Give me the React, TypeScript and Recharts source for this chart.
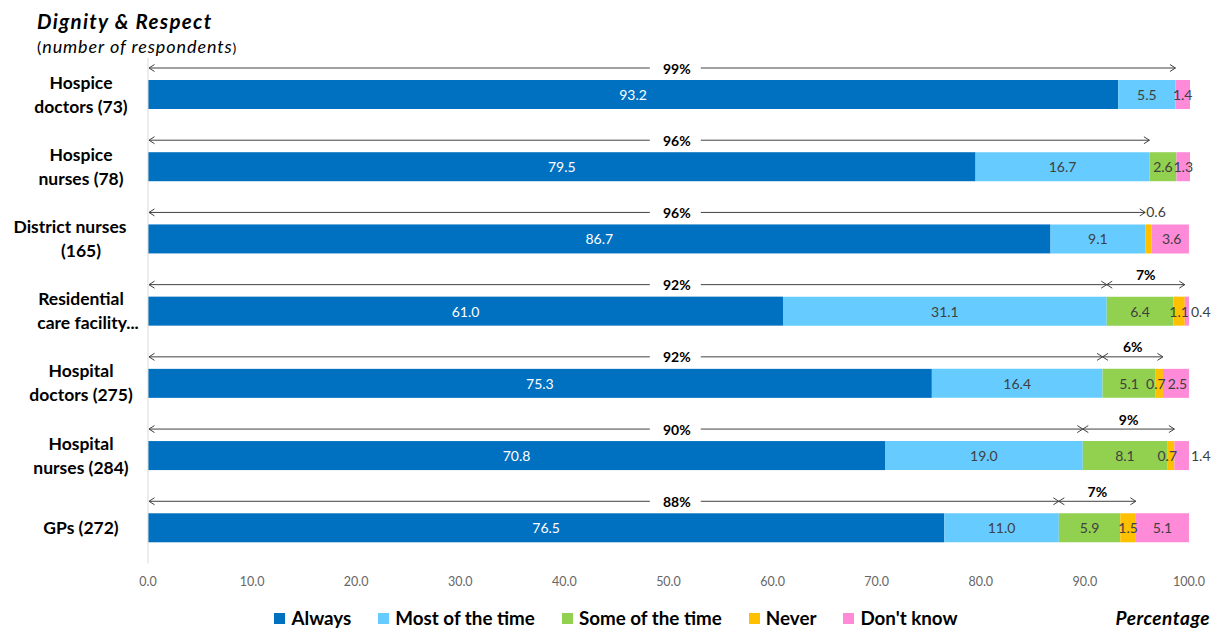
import React from 'react';
import { BarChart, Bar, XAxis, YAxis, LabelList, Legend } from 'recharts';

// Dignity & Respect survey: share of respondents per answer, by staff group
const categories = [
  'Hospice doctors (73)',
  'Hospice nurses (78)',
  'District nurses (165)',
  'Residential care facility…',
  'Hospital doctors (275)',
  'Hospital nurses (284)',
  'GPs (272)',
];
const categoryLines = [
  ['Hospice', 'doctors (73)'],
  ['Hospice', 'nurses (78)'],
  ['District nurses', '(165)'],
  ['Residential', 'care facility...'],
  ['Hospital', 'doctors (275)'],
  ['Hospital', 'nurses (284)'],
  ['GPs (272)'],
];
const always = [93.2, 79.5, 86.7, 61.0, 75.3, 70.8, 76.5];
const mostOfTheTime = [5.5, 16.7, 9.1, 31.1, 16.4, 19.0, 11.0];
const someOfTheTime = [0, 2.6, 0, 6.4, 5.1, 8.1, 5.9];
const never = [0, 0, 0.6, 1.1, 0.7, 0.7, 1.5];
const dontKnow = [1.4, 1.3, 3.6, 0.4, 2.5, 1.4, 5.1];
// bracket annotations: always + most of the time, and some of the time + never
const positiveShare = ['99%', '96%', '96%', '92%', '92%', '90%', '88%'];
const partialShare = [null, null, null, '7%', '6%', '9%', '7%'];
const xTicks = [0, 10, 20, 30, 40, 50, 60, 70, 80, 90, 100];

type SeriesKey = 'always' | 'most' | 'some' | 'never' | 'dontKnow';

const COLORS: Record<SeriesKey, string> = {
  always: '#0070C0',
  most: '#66CCFF',
  some: '#92D050',
  never: '#FFC000',
  dontKnow: '#FF8AD8',
};
const SERIES: { key: SeriesKey; name: string }[] = [
  { key: 'always', name: 'Always' },
  { key: 'most', name: 'Most of the time' },
  { key: 'some', name: 'Some of the time' },
  { key: 'never', name: 'Never' },
  { key: 'dontKnow', name: "Don't know" },
];
const FONT = 'Lato, "Open Sans", sans-serif';
const TEXT_DARK = '#404040';
const ARROW = '#404040';

const data = categories.map((name, i) => ({
  name,
  idx: i,
  always: always[i],
  most: mostOfTheTime[i],
  some: someOfTheTime[i],
  never: never[i],
  dontKnow: dontKnow[i],
}));

const Arrow = ({ x1, x2, y, gapAt }: { x1: number; x2: number; y: number; gapAt?: number }) => {
  const head = 5.5;
  const half = 3.5;
  return (
    <g stroke={ARROW} strokeWidth={1} fill="none">
      {gapAt == null ? (
        <line x1={x1} y1={y} x2={x2} y2={y} />
      ) : (
        <>
          <line x1={x1} y1={y} x2={gapAt - 27} y2={y} />
          <line x1={gapAt + 24} y1={y} x2={x2} y2={y} />
        </>
      )}
      <polyline points={`${x1 + head},${y - half} ${x1},${y} ${x1 + head},${y + half}`} />
      <polyline points={`${x2 - head},${y - half} ${x2},${y} ${x2 - head},${y + half}`} />
    </g>
  );
};

// "Always" segment plus the bracket arrows that sit above each bar
const AlwaysShape = (props: any) => {
  const { x, y, width, height, payload } = props;
  const unit = width / payload.always;
  const ay = y - 12;
  const endPositive = x + (payload.always + payload.most) * unit;
  const labelX = x + 50.8 * unit;
  const i = payload.idx;
  const partial = partialShare[i];
  const endPartial = endPositive + (payload.some + payload.never) * unit;
  return (
    <g>
      <rect x={x} y={y} width={width} height={height} fill={COLORS.always} />
      <Arrow x1={x + 1} x2={endPositive} y={ay} gapAt={labelX} />
      <text
        x={labelX}
        y={ay}
        textAnchor="middle"
        dominantBaseline="central"
        fontFamily={FONT}
        fontWeight={700}
        fontSize={14}
        fill="#000"
      >
        {positiveShare[i]}
      </text>
      {partial && (
        <>
          <Arrow x1={endPositive} x2={endPartial} y={ay} />
          <text
            x={(endPositive + endPartial) / 2}
            y={ay - 10}
            textAnchor="middle"
            dominantBaseline="central"
            fontFamily={FONT}
            fontWeight={700}
            fontSize={14}
            fill="#000"
          >
            {partial}
          </text>
        </>
      )}
    </g>
  );
};

// label values are carried as "row|value" so the renderer knows which row it is on
const labelAccessor = (key: SeriesKey) => (d: any) => (d[key] ? `${d.idx}|${d[key]}` : '');

const makeLabel = (series: SeriesKey) => (props: any) => {
  const { x, y, width, height, value } = props;
  if (!value) return null;
  const [rowStr, valStr] = String(value).split('|');
  const row = Number(rowStr);
  const v = Number(valStr);
  if (!v) return null;
  const text = v.toFixed(1);
  const fill = series === 'always' ? '#FFFFFF' : TEXT_DARK;
  let tx = x + width / 2;
  let ty = y + height / 2;
  let anchor: 'middle' | 'start' = 'middle';
  if (series === 'never') {
    if (someOfTheTime[row] === 0) {
      // no room beside the thin segment: lift the label above the bar
      tx = x + 1;
      ty = y - 13;
      anchor = 'start';
    } else if (v < 1) {
      // nudge left so it clears the "Don't know" label
      tx -= 3.5;
    }
  }
  if (series === 'dontKnow') {
    if (v < 2 && never[row] > 0) {
      tx = x + width + 2;
      anchor = 'start';
    } else if (never[row] > 0 && never[row] < 1) {
      tx += 1.5;
    }
  }
  return (
    <text
      x={tx}
      y={ty}
      textAnchor={anchor}
      dominantBaseline="central"
      fontFamily={FONT}
      fontSize={14}
      fill={fill}
    >
      {text}
    </text>
  );
};

const lineCenter: Record<string, number> = {
  'District nurses': 70,
  'care facility...': 88,
};

const CategoryTick = (props: any) => {
  const { y, index } = props;
  const lines = categoryLines[index] || [];
  const offsets = lines.length === 1 ? [0] : [-12, 12];
  return (
    <g>
      {lines.map((line, k) => (
        <text
          key={k}
          x={lineCenter[line] ?? 81}
          y={y + offsets[k]}
          textAnchor="middle"
          dominantBaseline="central"
          fontFamily={FONT}
          fontWeight={700}
          fontSize={17.5}
          fill="#000"
        >
          {line}
        </text>
      ))}
    </g>
  );
};

const LegendContent = () => (
  <div
    style={{
      display: 'flex',
      justifyContent: 'center',
      alignItems: 'center',
      gap: 27,
      paddingLeft: 12,
      fontFamily: FONT,
      fontWeight: 700,
      fontSize: 18.8,
      color: '#000',
      lineHeight: '22px',
    }}
  >
    {SERIES.map((s) => (
      <div key={s.key} style={{ display: 'flex', alignItems: 'center' }}>
        <span
          style={{ width: 11, height: 11, background: COLORS[s.key], display: 'inline-block', marginRight: 6 }}
        />
        <span>{s.name}</span>
      </div>
    ))}
  </div>
);

export default function App() {
  return (
    <div style={{ position: 'absolute', left: 0, top: 0, width: 1220, height: 628, background: '#fff' }}>
      <div
        style={{
          position: 'absolute',
          left: 37,
          top: 8,
          fontFamily: FONT,
          fontWeight: 700,
          fontStyle: 'italic',
          fontSize: 20.5,
          letterSpacing: 1.3,
          lineHeight: '26px',
          whiteSpace: 'nowrap',
        }}
      >
        Dignity &amp; Respect
      </div>
      <div
        style={{
          position: 'absolute',
          left: 37,
          top: 35,
          fontFamily: FONT,
          fontSize: 18,
          letterSpacing: 0.9,
          lineHeight: '22px',
          whiteSpace: 'nowrap',
        }}
      >
        <span style={{ fontSize: 16 }}>(</span>
        <span style={{ fontStyle: 'italic' }}>number of respondents</span>
        <span style={{ fontSize: 14 }}>)</span>
      </div>
      <div
        style={{
          position: 'absolute',
          right: 10,
          top: 607,
          fontFamily: FONT,
          fontWeight: 700,
          fontStyle: 'italic',
          fontSize: 19,
          letterSpacing: 0.5,
          lineHeight: '22px',
        }}
      >
        Percentage
      </div>
      <BarChart
        width={1220}
        height={628}
        data={data}
        layout="vertical"
        margin={{ top: 58, right: 30, bottom: 34.5, left: 0 }}
        barSize={29}
      >
        <XAxis
          type="number"
          domain={[0, 100]}
          ticks={xTicks}
          tickFormatter={(v: number) => v.toFixed(1)}
          axisLine={false}
          tickLine={false}
          tickSize={0}
          tickMargin={14}
          height={30}
          tick={{ fill: '#666666', fontSize: 12.5, fontFamily: FONT }}
        />
        <YAxis
          type="category"
          dataKey="name"
          width={148}
          axisLine={{ stroke: '#D9D9D9' }}
          tickLine={false}
          tick={<CategoryTick />}
          interval={0}
        />
        <Legend
          verticalAlign="middle"
          layout="horizontal"
          wrapperStyle={{ top: 607, left: 0, width: 1220 }}
          content={<LegendContent />}
        />
        {SERIES.map((s) => (
          <Bar
            key={s.key}
            dataKey={s.key}
            name={s.name}
            stackId="s"
            fill={COLORS[s.key]}
            shape={s.key === 'always' ? <AlwaysShape /> : undefined}
            isAnimationActive={false}
          >
            <LabelList dataKey={labelAccessor(s.key)} content={makeLabel(s.key)} />
          </Bar>
        ))}
      </BarChart>
    </div>
  );
}
